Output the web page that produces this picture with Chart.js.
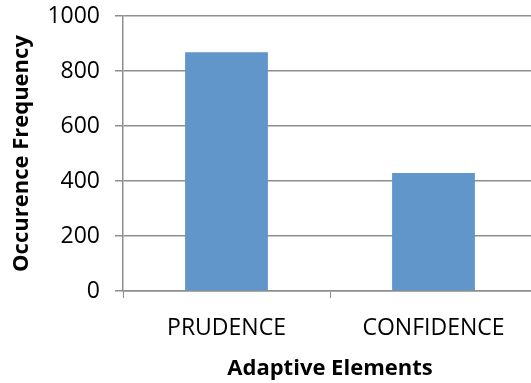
<!DOCTYPE html>
<html lang="en">
<head>
  <meta charset="utf-8">
  <title>Adaptive Elements</title>
  <style>
    html, body { margin: 0; padding: 0; background: #fff; overflow: hidden; }
    #chartContainer { width: 540px; height: 383px; }
  </style>
  <script src="https://cdn.jsdelivr.net/npm/chart.js"></script>
</head>
<body>
  <div id="chartContainer">
    <canvas id="barChart" width="540" height="383"></canvas>
  </div>
  <script>
    // chart values
    const categories = ['PRUDENCE', 'CONFIDENCE'];
    const frequencies = [868, 429];
    const yTicks = [0, 200, 400, 600, 800, 1000];

    const gray = '#8e8e8e';
    const fontFamily = '"Open Sans", sans-serif';

    const ctx = document.getElementById('barChart').getContext('2d');
    const barChartInstance = new Chart(ctx, {
      type: 'bar',
      data: {
        labels: categories,
        datasets: [{
          data: frequencies,
          backgroundColor: '#6096c9',
          borderWidth: 0,
          barPercentage: 0.4,
          categoryPercentage: 1
        }]
      },
      options: {
        responsive: false,
        animation: false,
        layout: { padding: { top: 16, right: 3, left: 6, bottom: 0 } },
        plugins: {
          legend: { display: false },
          tooltip: { enabled: false }
        },
        scales: {
          x: {
            grid: {
              offset: true,
              drawOnChartArea: false,
              drawTicks: true,
              tickLength: 7,
              color: gray
            },
            border: { color: gray, width: 1.5 },
            ticks: {
              color: '#000',
              padding: 17,
              font: { family: fontFamily, size: 23 }
            },
            title: {
              display: true,
              text: 'Adaptive Elements',
              color: '#000',
              padding: { top: -4, bottom: 1 },
              font: { family: fontFamily, size: 22, weight: 'bold' }
            }
          },
          y: {
            min: 0,
            max: 1000,
            afterBuildTicks: function(axis) {
              axis.ticks = yTicks.map(v => ({ value: v }));
            },
            afterFit: function(axis) {
              // let the top label overhang the plot instead of pushing it down
              axis.paddingTop = 0;
            },
            grid: {
              color: gray,
              lineWidth: 1.5,
              drawTicks: true,
              tickLength: 8
            },
            border: { color: gray, width: 1.5 },
            ticks: {
              color: '#000',
              padding: 15,
              callback: v => String(v),
              font: { family: fontFamily, size: 23 }
            },
            title: {
              display: true,
              text: 'Occurence Frequency',
              color: '#000',
              padding: { top: 3, bottom: -3 },
              font: { family: fontFamily, size: 22, weight: 'bold' }
            }
          }
        }
      }
    });
  </script>
</body>
</html>
